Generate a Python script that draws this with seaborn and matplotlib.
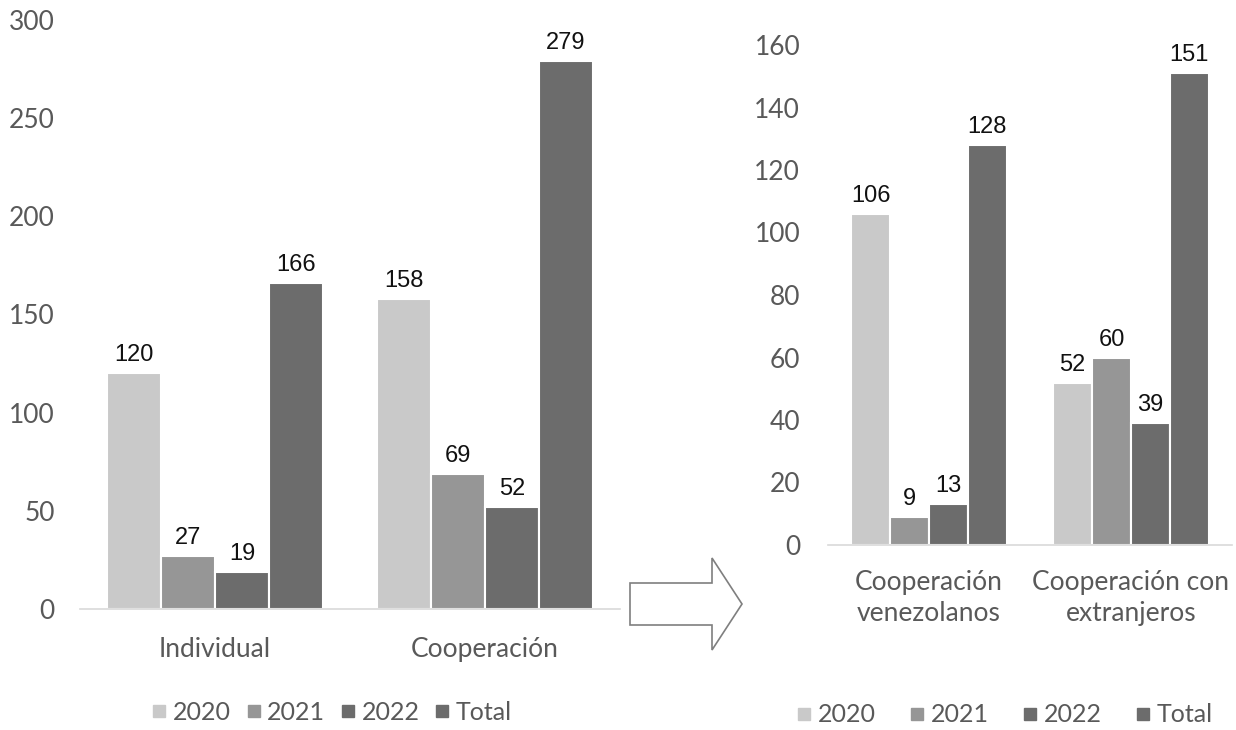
import matplotlib
matplotlib.use("Agg")
import matplotlib.pyplot as plt
import seaborn as sns
import pandas as pd
from matplotlib.patches import Polygon
from matplotlib.lines import Line2D

# ---- data ----
series = ["2020", "2021", "2022", "Total"]
left_categories = ["Individual", "Cooperación"]
left_2020 = [120, 158]
left_2021 = [27, 69]
left_2022 = [19, 52]
left_total = [166, 279]

right_categories = ["Cooperación\nvenezolanos", "Cooperación con\nextranjeros"]
right_2020 = [106, 52]
right_2021 = [9, 60]
right_2022 = [13, 39]
right_total = [128, 151]

colors = ["#c9c9c9", "#969696", "#6c6c6c", "#6c6c6c"]

def make_df(cats, a, b, c, d):
    rows = []
    for s, vals in zip(series, [a, b, c, d]):
        for cat, v in zip(cats, vals):
            rows.append({"cat": cat, "series": s, "value": v})
    return pd.DataFrame(rows)

df_left = make_df(left_categories, left_2020, left_2021, left_2022, left_total)
df_right = make_df(right_categories, right_2020, right_2021, right_2022, right_total)

sns.set_theme(style="white")
plt.rcParams["font.family"] = ["Lato", "DejaVu Sans"]

W, H = 1236, 730
fig = plt.figure(figsize=(W / 100, H / 100), dpi=100)

def px_axes(x0, x1, ybottom, ytop):
    return fig.add_axes([x0 / W, 1 - ybottom / H, (x1 - x0) / W, (ybottom - ytop) / H])

tick_color = "#595959"

def style_axes(ax, df, cats, ymax, ystep, width, ypad):
    sns.barplot(data=df, x="cat", y="value", hue="series", order=cats,
                hue_order=series, palette=colors, width=width, ax=ax,
                edgecolor="white", linewidth=1.5, saturation=1, legend=False)
    ax.set_ylim(0, ymax)
    ax.set_xlim(-0.5, len(cats) - 0.5)
    ax.set_yticks(range(0, ymax + 1, ystep))
    for c in ax.containers:
        ax.bar_label(c, padding=5, fontsize=17, color="#111111",
                     family=["Liberation Sans", "DejaVu Sans"])
    for s in ["top", "right", "left"]:
        ax.spines[s].set_visible(False)
    ax.spines["bottom"].set_color("#d9d9d9")
    ax.spines["bottom"].set_linewidth(1.2)
    ax.set_xlabel("")
    ax.set_ylabel("")
    ax.tick_params(axis="y", length=0, labelsize=19, labelcolor=tick_color, pad=ypad)
    ax.tick_params(axis="x", which="major", length=0, labelsize=19,
                   labelcolor=tick_color, pad=20)
    ax.set_xticks([i - 0.5 for i in range(len(cats) + 1)], minor=True)
    ax.tick_params(axis="x", which="minor", length=7, color="#d9d9d9", width=1.2,
                   direction="out")
    ax.set_facecolor("none")

ax1 = px_axes(80, 620, 609, 20)
style_axes(ax1, df_left, left_categories, 300, 50, 0.8, 18)

ax2 = px_axes(828, 1232, 545, 45)
style_axes(ax2, df_right, right_categories, 160, 20, 0.77, 20)
for lbl in ax2.get_xticklabels():
    lbl.set_linespacing(1.3)
ax2.tick_params(axis="x", which="major", pad=18)

# legends
handles = [Line2D([0], [0], marker="s", linestyle="", markersize=8,
                  markerfacecolor=c, markeredgecolor=c) for c in colors]
fig.legend(handles, series, loc="center", bbox_to_anchor=(330 / W, 1 - 712 / H),
           ncol=4, frameon=False, fontsize=18, handletextpad=0.1,
           columnspacing=0.45, labelcolor=tick_color, handlelength=0.9)
fig.legend(handles, series, loc="center", bbox_to_anchor=(1003 / W, 1 - 715 / H),
           ncol=4, frameon=False, fontsize=18, handletextpad=0.1,
           columnspacing=1.2, labelcolor=tick_color, handlelength=0.9)

# hollow arrow between the charts
pts_px = [(630, 583), (712, 583), (712, 558), (742, 604), (712, 650), (712, 625), (630, 625)]
pts = [(x / W, 1 - y / H) for x, y in pts_px]
fig.patches.append(Polygon(pts, closed=True, transform=fig.transFigure,
                           facecolor="white", edgecolor="#7f7f7f", linewidth=1.2))

fig.savefig("out.png", dpi=100, facecolor="white")
